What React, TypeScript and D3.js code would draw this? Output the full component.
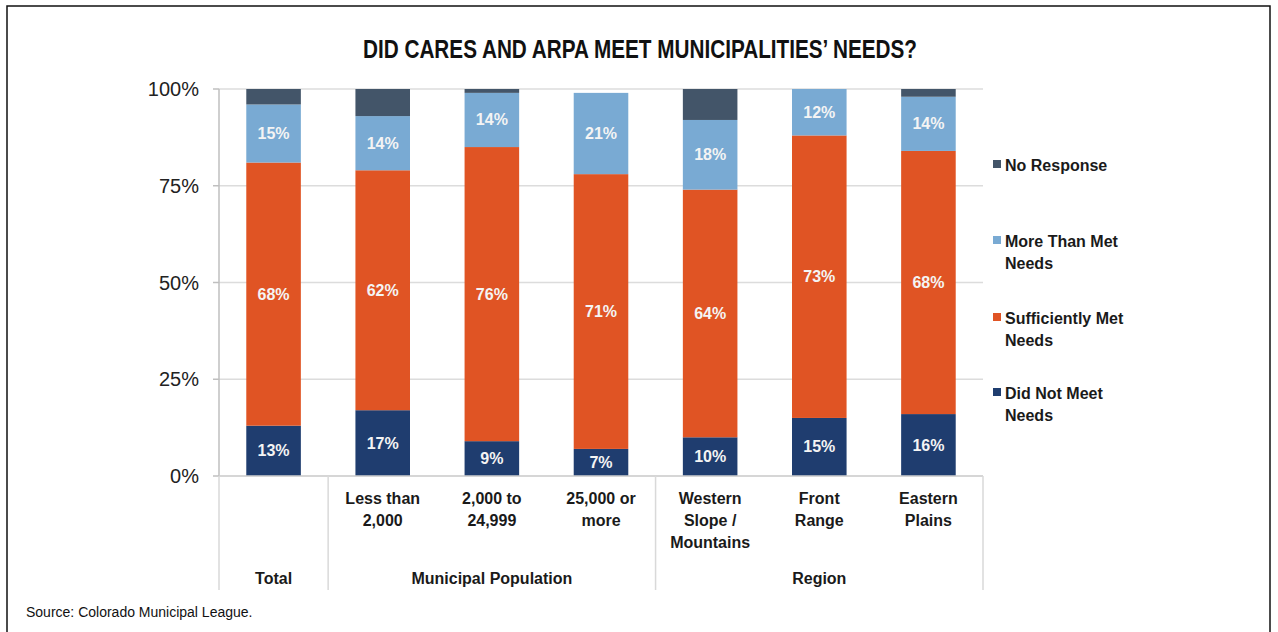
import React from "react";
import * as d3 from "d3";

const categories = ["Total", "Less than 2,000", "2,000 to 24,999", "25,000 or more", "Western Slope / Mountains", "Front Range", "Eastern Plains"];
const categoryLines = [[""], ["Less than", "2,000"], ["2,000 to", "24,999"], ["25,000 or", "more"], ["Western", "Slope /", "Mountains"], ["Front", "Range"], ["Eastern", "Plains"]];
const didNotMeet = [13, 17, 9, 7, 10, 15, 16];
const sufficientlyMet = [68, 62, 76, 71, 64, 73, 68];
const moreThanMet = [15, 14, 14, 21, 18, 12, 14];
const noResponse = [4, 7, 1, 0, 8, 0, 2];
const seriesNames = ["Did Not Meet Needs", "Sufficiently Met Needs", "More Than Met Needs", "No Response"];
const seriesColors = ["#1f3d6f", "#e05424", "#79aad3", "#435569"];
const showLabel = [true, true, true, false];
const yTicks = [0, 25, 50, 75, 100];
const groups = [
  { name: "Total", from: 0, to: 0 },
  { name: "Municipal Population", from: 1, to: 3 },
  { name: "Region", from: 4, to: 6 },
];
const legendItems = [
  { idx: 3, lines: ["No Response"] },
  { idx: 2, lines: ["More Than Met", "Needs"] },
  { idx: 1, lines: ["Sufficiently Met", "Needs"] },
  { idx: 0, lines: ["Did Not Meet", "Needs"] },
];

export default function App() {
  const W = 1278, H = 632;
  const left = 219, right = 983, top = 89, bottom = 476;
  const x = d3.scaleBand<number>().domain(d3.range(categories.length)).range([left, right]).paddingInner(0.5).paddingOuter(0.25);
  const y = d3.scaleLinear().domain([0, 100]).range([bottom, top]);
  const table = categories.map((c, i) => ({ i, s0: didNotMeet[i], s1: sufficientlyMet[i], s2: moreThanMet[i], s3: noResponse[i] }));
  const stack = d3.stack<any>().keys(["s0", "s1", "s2", "s3"])(table);
  const step = x.step();
  const font = "Arial, 'Liberation Sans', Helvetica, sans-serif";
  const sepXs = [left, left + step, left + 4 * step, right];
  return (
    <svg width={W} height={H} style={{ position: "absolute", left: 0, top: 0, background: "#fff" }} fontFamily={font}>
      <rect x={7} y={6} width={1263} height={640} fill="#fff" stroke="#111" strokeWidth={1.5} />
      <text x={640} y={58} textAnchor="middle" fontFamily="'Liberation Sans', Arial, sans-serif" fontWeight="bold" fontSize={25} fill="#111" textLength={554} lengthAdjust="spacingAndGlyphs">DID CARES AND ARPA MEET MUNICIPALITIES’ NEEDS?</text>
      {yTicks.map((t) => (
        <g key={t}>
          <line x1={left} x2={right} y1={y(t)} y2={y(t)} stroke="#dcdcdc" strokeWidth={1.5} />
          <line x1={left - 6} x2={left} y1={y(t)} y2={y(t)} stroke="#bfbfbf" strokeWidth={1.5} />
          <text x={199} y={y(t) + 7} textAnchor="end" fontSize={20} fill="#222">{t}%</text>
        </g>
      ))}
      <line x1={left} x2={left} y1={top} y2={bottom} stroke="#bfbfbf" strokeWidth={1.5} />
      {stack.map((layer, si) => (
        <g key={si}>
          {layer.map((d, ci) => {
            const h = y(d[0]) - y(d[1]);
            if (h <= 0) return null;
            const bx = x(ci)!;
            return (
              <g key={ci}>
                <rect x={bx} y={y(d[1])} width={x.bandwidth()} height={h} fill={seriesColors[si]} />
                {showLabel[si] && (
                  <text x={bx + x.bandwidth() / 2} y={(y(d[0]) + y(d[1])) / 2 + 5.5} textAnchor="middle" fontWeight="bold" fontSize={16} fill="#f4f4f4">{d[1] - d[0]}%</text>
                )}
              </g>
            );
          })}
        </g>
      ))}
      <line x1={left} x2={right} y1={bottom} y2={bottom} stroke="#d0d0d0" strokeWidth={1.5} />
      {sepXs.map((sx, i) => (
        <line key={i} x1={sx} x2={sx} y1={bottom} y2={590} stroke="#d9d9d9" strokeWidth={1.5} />
      ))}
      {categoryLines.map((lines, ci) => (
        <text key={ci} x={x(ci)! + x.bandwidth() / 2} textAnchor="middle" fontWeight="bold" fontSize={16} fill="#1a1a1a">
          {lines.map((l, li) => (
            <tspan key={li} x={x(ci)! + x.bandwidth() / 2} y={504 + li * 22}>{l}</tspan>
          ))}
        </text>
      ))}
      {groups.map((g) => (
        <text key={g.name} x={(x(g.from)! + x(g.to)! + x.bandwidth()) / 2} y={584} textAnchor="middle" fontWeight="bold" fontSize={16} fill="#1a1a1a">{g.name}</text>
      ))}
      {legendItems.map((it, k) => {
        const ly = [165, 241, 318, 393][k];
        return (
          <g key={it.idx}>
            <rect x={993} y={ly - 5} width={8} height={8} fill={seriesColors[it.idx]} />
            <text fontWeight="bold" fontSize={16} fill="#1a1a1a">
              {it.lines.map((l, li) => (
                <tspan key={li} x={1005} y={ly + 6 + li * 22}>{l}</tspan>
              ))}
            </text>
          </g>
        );
      })}
      <text x={26} y={617} fontSize={14} fill="#111">Source: Colorado Municipal League.</text>
    </svg>
  );
}
